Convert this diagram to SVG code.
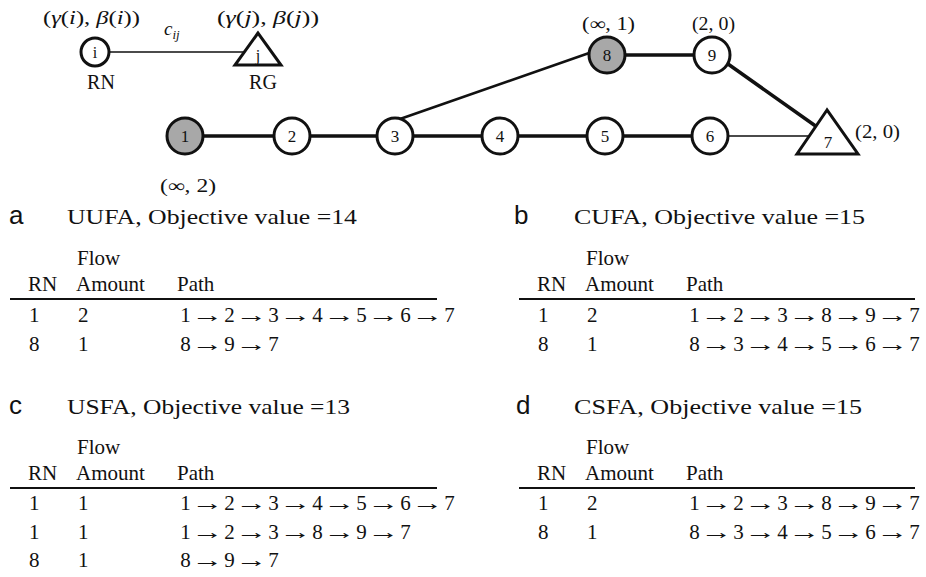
<svg xmlns="http://www.w3.org/2000/svg" xmlns:xlink="http://www.w3.org/1999/xlink" width="926" height="577" viewBox="0 0 926 577">
<style>
.s{font-family:"Liberation Serif","Times New Roman",serif;fill:#111}
.it{font-style:italic}
.lab{font-size:18px}
.nl{font-size:17px;text-anchor:middle}
.let{font-family:"Liberation Sans",Arial,sans-serif;font-size:26px;fill:#111}
.ti{font-size:22px}
.t{font-size:21px}
.p{font-size:21px;text-anchor:middle}
.node{fill:#fff;stroke:#111;stroke-width:3}
.gray{fill:#a8a8a8}
.e{stroke:#111;fill:none;stroke-linecap:round}
.thick{stroke-width:3.5}
.mid{stroke-width:2.6}
.thin{stroke-width:1.6}
.rule{stroke:#111;stroke-width:1.8}
</style>
<defs>
  <text id="ar" class="s" x="0" y="0" style="font-size:21px;text-anchor:middle" transform="scale(1.5,1)">→</text>
</defs>
<rect width="926" height="577" fill="#fff"/>

<g id="connectors">
  <line class="e thin" x1="109" y1="52" x2="247" y2="52"/>
  <line class="e thick" x1="185" y1="136" x2="292" y2="136"/>
  <line class="e thick" x1="292" y1="136" x2="395" y2="136"/>
  <line class="e thick" x1="395" y1="136" x2="500" y2="136"/>
  <line class="e thick" x1="500" y1="136" x2="605" y2="136"/>
  <line class="e thick" x1="605" y1="136" x2="710" y2="136"/>
  <line class="e thin" x1="710" y1="136" x2="811" y2="136"/>
  <line class="e mid" x1="400" y1="119" x2="592" y2="52"/>
  <line class="e thick" x1="607" y1="55" x2="712" y2="55"/>
  <line class="e thick" x1="728" y1="64" x2="817" y2="127"/>
</g>

<g id="legend-i">
  <circle class="node" cx="95" cy="52" r="14"/>
  <text class="s nl" x="95" y="58" style="font-size:16px">i</text>
  <text class="s lab" x="43" y="24" textLength="97" lengthAdjust="spacingAndGlyphs">(<tspan class="it">γ</tspan>(<tspan class="it">i</tspan>), <tspan class="it">β</tspan>(<tspan class="it">i</tspan>))</text>
  <text class="s" x="101" y="89" style="font-size:20px;text-anchor:middle">RN</text>
</g>
<g id="legend-cij">
  <text class="s it" x="164" y="35" style="font-size:19px">c<tspan dy="4" style="font-size:13px">ij</tspan></text>
</g>
<g id="legend-j">
  <polygon class="node" points="258,33 235,65 281,65"/>
  <text class="s nl" x="258" y="61" style="font-size:16px">j</text>
  <text class="s lab" x="217" y="24" textLength="102" lengthAdjust="spacingAndGlyphs">(<tspan class="it">γ</tspan>(<tspan class="it">j</tspan>), <tspan class="it">β</tspan>(<tspan class="it">j</tspan>))</text>
  <text class="s" x="263" y="89" style="font-size:20px;text-anchor:middle">RG</text>
</g>

<g id="node-1">
  <circle class="node gray" cx="185" cy="136" r="18"/>
  <text class="s nl" x="185" y="142">1</text>
  <text class="s lab" x="160" y="192" textLength="56" lengthAdjust="spacingAndGlyphs">(∞, 2)</text>
</g>
<g id="node-2"><circle class="node" cx="292" cy="136" r="18"/><text class="s nl" x="292" y="142">2</text></g>
<g id="node-3"><circle class="node" cx="395" cy="136" r="18"/><text class="s nl" x="395" y="142">3</text></g>
<g id="node-4"><circle class="node" cx="500" cy="136" r="18"/><text class="s nl" x="500" y="142">4</text></g>
<g id="node-5"><circle class="node" cx="605" cy="136" r="18"/><text class="s nl" x="605" y="142">5</text></g>
<g id="node-6"><circle class="node" cx="710" cy="136" r="18"/><text class="s nl" x="710" y="142">6</text></g>
<g id="node-8">
  <circle class="node gray" cx="607" cy="55" r="18"/>
  <text class="s nl" x="607" y="61">8</text>
  <text class="s lab" x="582" y="30" textLength="53" lengthAdjust="spacingAndGlyphs">(∞, 1)</text>
</g>
<g id="node-9">
  <circle class="node" cx="712" cy="55" r="18"/>
  <text class="s nl" x="712" y="61">9</text>
  <text class="s lab" x="692" y="30" textLength="43" lengthAdjust="spacingAndGlyphs">(2, 0)</text>
</g>
<g id="node-7">
  <polygon class="node" points="827,110 797,154 858,154"/>
  <text class="s nl" x="828" y="148">7</text>
  <text class="s lab" x="855" y="138" textLength="45" lengthAdjust="spacingAndGlyphs">(2, 0)</text>
</g>

<!-- Table a -->
<g id="table-a">
  <text class="let" x="9" y="224">a</text>
  <text class="s ti" x="67" y="224" textLength="290" lengthAdjust="spacingAndGlyphs">UUFA, Objective value =14</text>
  <text class="s t" x="77" y="265">Flow</text>
  <text class="s t" x="28" y="291">RN</text>
  <text class="s t" x="76" y="291">Amount</text>
  <text class="s t" x="177" y="291">Path</text>
  <line class="rule" x1="10" y1="299" x2="437" y2="299"/>
  <text class="s t" x="29" y="322">1</text>
  <text class="s t" x="78" y="322">2</text>
  <text class="s p" x="185.4 229.4 273.4 317.4 361.4 405.4 449.4" y="322">1234567</text>
  <use xlink:href="#ar" transform="translate(207.4,322)"/><use xlink:href="#ar" transform="translate(251.4,322)"/><use xlink:href="#ar" transform="translate(295.4,322)"/><use xlink:href="#ar" transform="translate(339.4,322)"/><use xlink:href="#ar" transform="translate(383.4,322)"/><use xlink:href="#ar" transform="translate(427.4,322)"/>
  <text class="s t" x="29" y="351">8</text>
  <text class="s t" x="78" y="351">1</text>
  <text class="s p" x="185.4 229.4 273.4" y="351">897</text>
  <use xlink:href="#ar" transform="translate(207.4,351)"/><use xlink:href="#ar" transform="translate(251.4,351)"/>
</g>

<!-- Table b -->
<g id="table-b">
  <text class="let" x="514" y="224">b</text>
  <text class="s ti" x="574" y="224" textLength="291" lengthAdjust="spacingAndGlyphs">CUFA, Objective value =15</text>
  <text class="s t" x="586" y="265">Flow</text>
  <text class="s t" x="537" y="291">RN</text>
  <text class="s t" x="585" y="291">Amount</text>
  <text class="s t" x="686" y="291">Path</text>
  <line class="rule" x1="519" y1="299" x2="915" y2="299"/>
  <text class="s t" x="538" y="322">1</text>
  <text class="s t" x="587" y="322">2</text>
  <text class="s p" x="694.4 738.4 782.4 826.4 870.4 914.4" y="322">123897</text>
  <use xlink:href="#ar" transform="translate(716.4,322)"/><use xlink:href="#ar" transform="translate(760.4,322)"/><use xlink:href="#ar" transform="translate(804.4,322)"/><use xlink:href="#ar" transform="translate(848.4,322)"/><use xlink:href="#ar" transform="translate(892.4,322)"/>
  <text class="s t" x="538" y="351">8</text>
  <text class="s t" x="587" y="351">1</text>
  <text class="s p" x="694.4 738.4 782.4 826.4 870.4 914.4" y="351">834567</text>
  <use xlink:href="#ar" transform="translate(716.4,351)"/><use xlink:href="#ar" transform="translate(760.4,351)"/><use xlink:href="#ar" transform="translate(804.4,351)"/><use xlink:href="#ar" transform="translate(848.4,351)"/><use xlink:href="#ar" transform="translate(892.4,351)"/>
</g>

<!-- Table c -->
<g id="table-c">
  <text class="let" x="9" y="414">c</text>
  <text class="s ti" x="67" y="414" textLength="283" lengthAdjust="spacingAndGlyphs">USFA, Objective value =13</text>
  <text class="s t" x="77" y="454">Flow</text>
  <text class="s t" x="28" y="480">RN</text>
  <text class="s t" x="76" y="480">Amount</text>
  <text class="s t" x="177" y="480">Path</text>
  <line class="rule" x1="10" y1="488" x2="437" y2="488"/>
  <text class="s t" x="29" y="510">1</text>
  <text class="s t" x="78" y="510">1</text>
  <text class="s p" x="185.4 229.4 273.4 317.4 361.4 405.4 449.4" y="510">1234567</text>
  <use xlink:href="#ar" transform="translate(207.4,510)"/><use xlink:href="#ar" transform="translate(251.4,510)"/><use xlink:href="#ar" transform="translate(295.4,510)"/><use xlink:href="#ar" transform="translate(339.4,510)"/><use xlink:href="#ar" transform="translate(383.4,510)"/><use xlink:href="#ar" transform="translate(427.4,510)"/>
  <text class="s t" x="29" y="539">1</text>
  <text class="s t" x="78" y="539">1</text>
  <text class="s p" x="185.4 229.4 273.4 317.4 361.4 405.4" y="539">123897</text>
  <use xlink:href="#ar" transform="translate(207.4,539)"/><use xlink:href="#ar" transform="translate(251.4,539)"/><use xlink:href="#ar" transform="translate(295.4,539)"/><use xlink:href="#ar" transform="translate(339.4,539)"/><use xlink:href="#ar" transform="translate(383.4,539)"/>
  <text class="s t" x="29" y="567">8</text>
  <text class="s t" x="78" y="567">1</text>
  <text class="s p" x="185.4 229.4 273.4" y="567">897</text>
  <use xlink:href="#ar" transform="translate(207.4,567)"/><use xlink:href="#ar" transform="translate(251.4,567)"/>
</g>

<!-- Table d -->
<g id="table-d">
  <text class="let" x="516" y="414">d</text>
  <text class="s ti" x="574" y="414" textLength="288" lengthAdjust="spacingAndGlyphs">CSFA, Objective value =15</text>
  <text class="s t" x="586" y="454">Flow</text>
  <text class="s t" x="537" y="480">RN</text>
  <text class="s t" x="585" y="480">Amount</text>
  <text class="s t" x="686" y="480">Path</text>
  <line class="rule" x1="519" y1="488" x2="915" y2="488"/>
  <text class="s t" x="538" y="510">1</text>
  <text class="s t" x="587" y="510">2</text>
  <text class="s p" x="694.4 738.4 782.4 826.4 870.4 914.4" y="510">123897</text>
  <use xlink:href="#ar" transform="translate(716.4,510)"/><use xlink:href="#ar" transform="translate(760.4,510)"/><use xlink:href="#ar" transform="translate(804.4,510)"/><use xlink:href="#ar" transform="translate(848.4,510)"/><use xlink:href="#ar" transform="translate(892.4,510)"/>
  <text class="s t" x="538" y="539">8</text>
  <text class="s t" x="587" y="539">1</text>
  <text class="s p" x="694.4 738.4 782.4 826.4 870.4 914.4" y="539">834567</text>
  <use xlink:href="#ar" transform="translate(716.4,539)"/><use xlink:href="#ar" transform="translate(760.4,539)"/><use xlink:href="#ar" transform="translate(804.4,539)"/><use xlink:href="#ar" transform="translate(848.4,539)"/><use xlink:href="#ar" transform="translate(892.4,539)"/>
</g>
</svg>
